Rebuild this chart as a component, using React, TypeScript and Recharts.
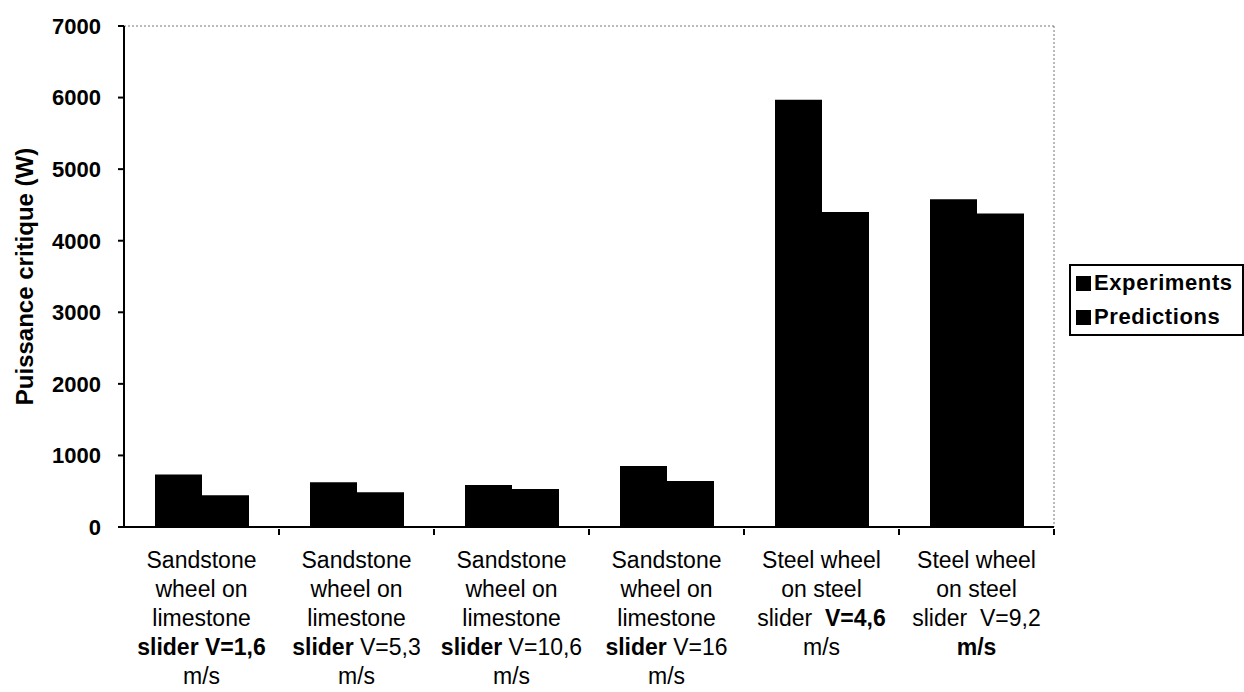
import { BarChart, Bar, XAxis, YAxis, CartesianGrid, Legend } from 'recharts';

const categories = ['sand16', 'sand53', 'sand106', 'sand16b', 'steel46', 'steel92'];
const experiments = [735, 625, 587, 852, 5970, 4580];
const predictions = [445, 485, 531, 643, 4400, 4380];
const yTicks = [0, 1000, 2000, 3000, 4000, 5000, 6000, 7000];

// each label line is a list of [text, bold] segments
const categoryLabels: [string, boolean][][][] = [
  [[['Sandstone', false]], [['wheel on', false]], [['limestone', false]], [['slider V=1,6', true]], [['m/s', false]]],
  [[['Sandstone', false]], [['wheel on', false]], [['limestone', false]], [['slider', true], [' V=5,3', false]], [['m/s', false]]],
  [[['Sandstone', false]], [['wheel on', false]], [['limestone', false]], [['slider', true], [' V=10,6', false]], [['m/s', false]]],
  [[['Sandstone', false]], [['wheel on', false]], [['limestone', false]], [['slider', true], [' V=16', false]], [['m/s', false]]],
  [[['Steel wheel', false]], [['on steel', false]], [['slider  ', false], ['V=4,6', true]], [['m/s', false]]],
  [[['Steel wheel', false]], [['on steel', false]], [['slider  V=9,2', false]], [['m/s', true]]],
];

const data = categories.map((name, i) => ({
  name,
  Experiments: experiments[i],
  Predictions: predictions[i],
}));

const font = '"Liberation Sans", Arial, sans-serif';

function CategoryTick(props: any) {
  const { x, y, payload, width, visibleTicksCount } = props;
  const lines = categoryLabels[payload.index];
  const half = width / visibleTicksCount / 2;
  const isLast = payload.index === visibleTicksCount - 1;
  return (
    <g transform={`translate(${x},${y})`}>
      {payload.index > 0 && <line x1={-half} x2={-half} y1={0} y2={6} stroke="#000" strokeWidth={2} />}
      {isLast && <line x1={half} x2={half} y1={0} y2={6} stroke="#000" strokeWidth={2} />}
      <text textAnchor="middle" fontFamily={font} fontSize={23} fill="#000" style={{ whiteSpace: 'pre' }}>
        {lines.map((segs, i) => (
          <tspan key={i} x={0} dy={i === 0 ? 39 : 29}>
            {segs.map(([t, b], j) => (
              <tspan key={j} fontWeight={b ? 'bold' : 'normal'}>{t}</tspan>
            ))}
          </tspan>
        ))}
      </text>
    </g>
  );
}

function LegendBox(props: any) {
  const { payload } = props;
  return (
    <div style={{ border: '2px solid #000', background: '#fff', padding: '0 0 0 5px', fontFamily: font }}>
      {payload.map((p: any) => (
        <div key={p.value} style={{ display: 'flex', alignItems: 'center', height: 34 }}>
          <span style={{ width: 15, height: 15, background: p.color, marginRight: 3, display: 'inline-block' }} />
          <span style={{ fontWeight: 'bold', fontSize: 22, letterSpacing: 0.6, color: '#000' }}>{p.value}</span>
        </div>
      ))}
    </div>
  );
}

export default function App() {
  return (
    <div style={{ position: 'absolute', left: 0, top: 0, background: '#fff' }}>
      <BarChart
        width={1244}
        height={692}
        data={data}
        margin={{ top: 26, right: 190, left: 0, bottom: 0 }}
        barCategoryGap="20%"
        barGap={0}
      >
        <CartesianGrid
          stroke="#777"
          strokeDasharray="2 2"
          horizontalCoordinatesGenerator={({ offset }: any) => [offset.top]}
          verticalCoordinatesGenerator={({ offset }: any) => [offset.left + offset.width]}
        />
        <XAxis
          dataKey="name"
          axisLine={{ stroke: '#000', strokeWidth: 2 }}
          tickLine={false}
          tickSize={0}
          tick={<CategoryTick />}
          interval={0}
          height={165}
        />
        <YAxis
          domain={[0, 7000]}
          ticks={yTicks}
          width={124}
          tickSize={6}
          tickMargin={17}
          tickLine={{ stroke: '#000', strokeWidth: 2 }}
          axisLine={{ stroke: '#000', strokeWidth: 2 }}
          tick={{ fill: '#000', fontSize: 22, fontWeight: 'bold', fontFamily: font }}
          label={{
            content: (p: any) => {
              const vb = p.viewBox;
              const cx = vb.x + 24;
              const cy = vb.y + vb.height / 2;
              return (
                <text
                  x={cx}
                  y={cy}
                  transform={`rotate(-90 ${cx} ${cy})`}
                  textAnchor="middle"
                  dominantBaseline="central"
                  fontFamily={font}
                  fontSize={24}
                  fontWeight="bold"
                  fill="#000"
                >
                  Puissance critique (W)
                </text>
              );
            },
          }}
        />
        <Legend
          layout="vertical"
          align="center"
          verticalAlign="middle"
          content={<LegendBox />}
          wrapperStyle={{ left: 1069, top: 264, width: 175 }}
        />
        <Bar dataKey="Experiments" fill="#000" isAnimationActive={false} />
        <Bar dataKey="Predictions" fill="#000" isAnimationActive={false} />
      </BarChart>
    </div>
  );
}
